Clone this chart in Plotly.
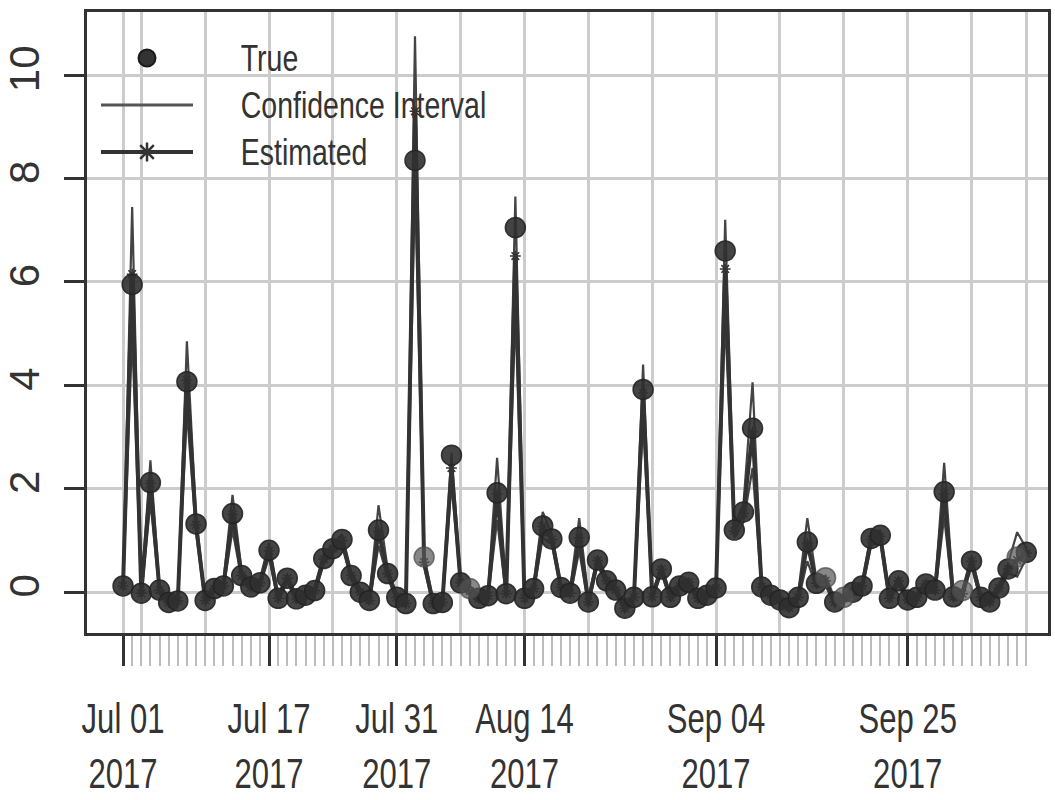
import pandas as pd
import plotly.graph_objects as go

# ---------------- data ----------------
start_date = "2017-07-01"
dates = pd.date_range(start_date, periods=100, freq="D")

true_vals = [0.12, 5.95, -0.02, 2.12, 0.04, -0.2, -0.17, 4.07, 1.32, -0.16,
             0.07, 0.12, 1.52, 0.32, 0.1, 0.18, 0.81, -0.12, 0.27, -0.13,
             -0.06, 0.03, 0.65, 0.84, 1.02, 0.32, 0.0, -0.16, 1.2, 0.36,
             -0.1, -0.22, 8.35, 0.68, -0.22, -0.2, 2.65, 0.18, 0.07, -0.12,
             -0.07, 1.92, -0.03, 7.05, -0.12, 0.07, 1.28, 1.03, 0.09, -0.02,
             1.06, -0.19, 0.62, 0.22, 0.04, -0.31, -0.1, 3.92, -0.09, 0.45,
             -0.1, 0.12, 0.19, -0.12, -0.06, 0.08, 6.6, 1.2, 1.55, 3.17,
             0.1, -0.06, -0.15, -0.3, -0.1, 0.97, 0.17, 0.28, -0.19, -0.1,
             0.0, 0.12, 1.04, 1.1, -0.12, 0.22, -0.15, -0.1, 0.16, 0.04,
             1.94, -0.09, 0.03, 0.6, -0.1, -0.19, 0.08, 0.45, 0.68, 0.77]

est_vals = [0.12, 6.15, -0.02, 2.1, 0.04, -0.2, -0.17, 4.1, 1.3, -0.16,
            0.07, 0.12, 1.5, 0.32, 0.1, 0.18, 0.8, -0.12, 0.27, -0.13,
            -0.06, 0.03, 0.64, 0.84, 1.0, 0.32, 0.0, -0.16, 1.18, 0.36,
            -0.1, -0.22, 9.3, 0.58, -0.22, -0.2, 2.4, 0.18, 0.02, -0.12,
            -0.07, 1.9, -0.03, 6.5, -0.12, 0.07, 1.27, 1.02, 0.09, -0.02,
            1.05, -0.19, 0.61, 0.22, 0.04, -0.31, -0.1, 3.85, -0.09, 0.44,
            -0.1, 0.12, 0.19, -0.12, -0.06, 0.08, 6.25, 1.18, 1.52, 3.1,
            0.1, -0.06, -0.15, -0.3, -0.1, 0.95, 0.17, 0.22, -0.19, -0.12,
            0.0, 0.12, 1.02, 1.08, -0.12, 0.22, -0.15, -0.1, 0.16, 0.04,
            1.9, -0.09, -0.03, 0.6, -0.1, -0.19, 0.08, 0.45, 0.62, 0.75]

ci_upper = [0.2, 7.45, 0.05, 2.55, 0.1, -0.13, -0.1, 4.85, 1.45, -0.1,
            0.13, 0.2, 1.88, 0.4, 0.17, 0.25, 0.95, -0.05, 0.34, -0.06,
            0.0, 0.1, 0.75, 0.92, 1.12, 0.4, 0.07, -0.1, 1.68, 0.45,
            -0.03, -0.15, 10.75, 0.7, -0.15, -0.13, 2.7, 0.26, 0.12, -0.05,
            0.0, 2.6, 0.05, 7.65, -0.05, 0.14, 1.55, 1.12, 0.16, 0.05,
            1.43, -0.12, 0.7, 0.3, 0.11, -0.24, -0.03, 4.4, -0.02, 0.52,
            -0.03, 0.19, 0.26, -0.05, 0.01, 0.15, 7.2, 1.3, 1.7, 4.06,
            0.17, 0.01, -0.08, -0.23, -0.03, 1.43, 0.25, 0.32, -0.12, -0.05,
            0.07, 0.19, 1.15, 1.2, -0.05, 0.29, -0.08, -0.03, 0.23, 0.11,
            2.5, -0.02, 0.05, 0.7, -0.03, -0.12, 0.15, 0.55, 1.16, 0.85]

ci_lower = [0.04, 5.0, -0.09, 1.75, -0.03, -0.27, -0.24, 3.5, 1.15, -0.23,
            0.0, 0.05, 1.2, 0.25, 0.03, 0.11, 0.68, -0.19, 0.2, -0.2,
            -0.13, -0.04, 0.55, 0.76, 0.9, 0.25, -0.07, -0.23, 0.9, 0.29,
            -0.17, -0.29, 7.9, 0.48, -0.29, -0.27, 2.1, 0.11, -0.06, -0.19,
            -0.14, 1.4, -0.1, 5.4, -0.19, 0.0, 1.05, 0.93, 0.02, -0.09,
            0.8, -0.26, 0.52, 0.15, -0.03, -0.38, -0.17, 3.3, -0.16, 0.37,
            -0.17, 0.05, 0.12, -0.19, -0.13, 0.01, 5.3, 1.05, 1.35, 2.4,
            0.03, -0.13, -0.22, -0.37, -0.17, 0.6, 0.1, 0.13, -0.26, -0.19,
            -0.07, 0.05, 0.9, 0.98, -0.19, 0.15, -0.22, -0.17, 0.09, -0.03,
            1.45, -0.16, -0.1, 0.5, -0.17, -0.26, 0.01, 0.36, 0.3, 0.66]

light_days = [33, 38, 77, 79, 92, 98]

major_ticks = ["2017-07-01", "2017-07-03", "2017-07-10", "2017-07-17", "2017-07-24",
               "2017-07-31", "2017-08-07", "2017-08-14", "2017-08-21", "2017-08-28",
               "2017-09-04", "2017-09-11", "2017-09-18", "2017-09-25", "2017-10-02",
               "2017-10-08"]
labelled = {"2017-07-01": "Jul 01<br>2017", "2017-07-17": "Jul 17<br>2017",
            "2017-07-31": "Jul 31<br>2017", "2017-08-14": "Aug 14<br>2017",
            "2017-09-04": "Sep 04<br>2017", "2017-09-25": "Sep 25<br>2017"}
tick_text = [labelled.get(t, "") for t in major_ticks]
y_ticks = [0, 2, 4, 6, 8, 10]

legend_names = ["True", "Confidence Interval", "Estimated"]

# ---------------- style ----------------
DARK = "#333333"
GRID = "#cccccc"
FONT = "Liberation Sans, Arial, Helvetica, sans-serif"
XSQUEEZE = 0.74     # horizontal condensing of x tick labels
LSQUEEZE = 0.77     # horizontal condensing of legend labels

W, H = 1055, 800
ML, MR, MT, MB = 87, 7, 12, 167

fig = go.Figure()

for arr in (ci_upper, ci_lower):
    fig.add_trace(go.Scatter(x=dates, y=arr, mode="lines",
                             line=dict(color="#444444", width=2.2),
                             showlegend=False, hoverinfo="skip"))

fig.add_trace(go.Scatter(x=dates, y=est_vals, mode="lines+markers",
                         line=dict(color=DARK, width=4),
                         marker=dict(symbol="asterisk-open", size=9, color=DARK,
                                     line=dict(color=DARK, width=1.5)),
                         showlegend=False))

dark_idx = [i for i in range(len(dates)) if i not in light_days]
fig.add_trace(go.Scatter(x=[dates[i] for i in dark_idx], y=[true_vals[i] for i in dark_idx],
                         mode="markers",
                         marker=dict(symbol="circle", size=20, color="rgba(48,48,48,0.9)",
                                     line=dict(color="rgba(35,35,35,0.9)", width=1.5)),
                         showlegend=False))
fig.add_trace(go.Scatter(x=[dates[i] for i in light_days], y=[true_vals[i] for i in light_days],
                         mode="markers",
                         marker=dict(symbol="circle", size=20, color="rgba(85,85,85,0.7)",
                                     line=dict(color="rgba(70,70,70,0.7)", width=1.5)),
                         showlegend=False))

# ---- legend (drawn on a pixel-space overlay axis) ----
LX0, LX1, LXM, LTX = 101, 193, 147, 240
LY = [58, 105, 152]
fig.add_trace(go.Scatter(x=[LXM], y=[LY[0]], xaxis="x2", yaxis="y2", mode="markers",
                         marker=dict(symbol="circle", size=17, color=DARK,
                                     line=dict(color="#1a1a1a", width=2)),
                         showlegend=False, hoverinfo="skip"))
fig.add_trace(go.Scatter(x=[LX0, LX1], y=[LY[1], LY[1]], xaxis="x2", yaxis="y2", mode="lines",
                         line=dict(color="#555555", width=3),
                         showlegend=False, hoverinfo="skip"))
fig.add_trace(go.Scatter(x=[LX0, LX1], y=[LY[2]] * 2, xaxis="x2", yaxis="y2",
                         mode="lines", line=dict(color=DARK, width=4),
                         showlegend=False, hoverinfo="skip"))
fig.add_trace(go.Scatter(x=[LXM], y=[LY[2]], xaxis="x2", yaxis="y2", mode="markers",
                         marker=dict(symbol="asterisk-open", size=16, color=DARK,
                                     line=dict(color=DARK, width=2.5)),
                         showlegend=False, hoverinfo="skip"))
for name, yy in zip(legend_names, LY):
    fig.add_annotation(x=LTX, y=yy, xref="x2", yref="y2", text=name, showarrow=False,
                       xanchor="left", yanchor="middle", borderpad=0,
                       font=dict(family=FONT, size=37, color=DARK))

x0 = pd.Timestamp(start_date) - pd.Timedelta(days=3.95)
x1 = pd.Timestamp(start_date) + pd.Timedelta(days=101.38)

fig.update_layout(
    width=W, height=H,
    margin=dict(l=ML, r=MR, t=MT, b=MB, pad=0, autoexpand=False),
    plot_bgcolor="white", paper_bgcolor="white",
    showlegend=False,
    xaxis=dict(type="date", range=[x0, x1], automargin=False, tickangle=0,
               tickmode="array", tickvals=major_ticks, ticktext=tick_text,
               ticks="outside", ticklen=30, tickwidth=2.5, tickcolor=DARK,
               showgrid=True, gridcolor=GRID, gridwidth=3,
               showline=True, linecolor=DARK, linewidth=3, mirror=True,
               zeroline=False,
               tickfont=dict(family=FONT, size=42, color=DARK),
               ticklabelstandoff=17,
               minor=dict(tickmode="array", tickvals=list(dates), ticks="outside",
                          ticklen=30, tickwidth=2, tickcolor="#bdbdbd", showgrid=False)),
    yaxis=dict(range=[-0.79, 11.22], tickmode="array", tickvals=y_ticks, automargin=False,
               ticks="outside", ticklen=20, tickwidth=2.5, tickcolor=DARK,
               showgrid=True, gridcolor=GRID, gridwidth=3,
               showline=True, linecolor=DARK, linewidth=3, mirror=True,
               zeroline=False, tickangle=-90,
               tickfont=dict(family=FONT, size=42, color=DARK),
               ticklabelstandoff=8),
    xaxis2=dict(overlaying="x", range=[ML, W - MR], visible=False, fixedrange=True),
    yaxis2=dict(overlaying="y", range=[H - MB, MT], visible=False, fixedrange=True),
)

post_js = """
(function(){
  var gd = document.getElementById('{plot_id}');
  function squeeze(){
    gd.querySelectorAll('g.xtick > text').forEach(function(t){
      var base = (t.getAttribute('transform') || '').replace(/\\s*scale\\([^)]*\\)/g, '');
      t.setAttribute('transform', base + ' scale(XS,1)');
    });
    gd.querySelectorAll('text.annotation-text').forEach(function(t){
      var base = (t.getAttribute('transform') || '').replace(/\\s*scale\\([^)]*\\)/g, '');
      t.setAttribute('transform', base + ' scale(LS,1)');
    });
  }
  squeeze();
  if (gd.on) { gd.on('plotly_afterplot', squeeze); }
  setTimeout(squeeze, 30);
  setTimeout(squeeze, 300);
})();
""".replace("XS", str(XSQUEEZE)).replace("LS", str(LSQUEEZE))

fig.write_html("out.html", post_script=post_js)
